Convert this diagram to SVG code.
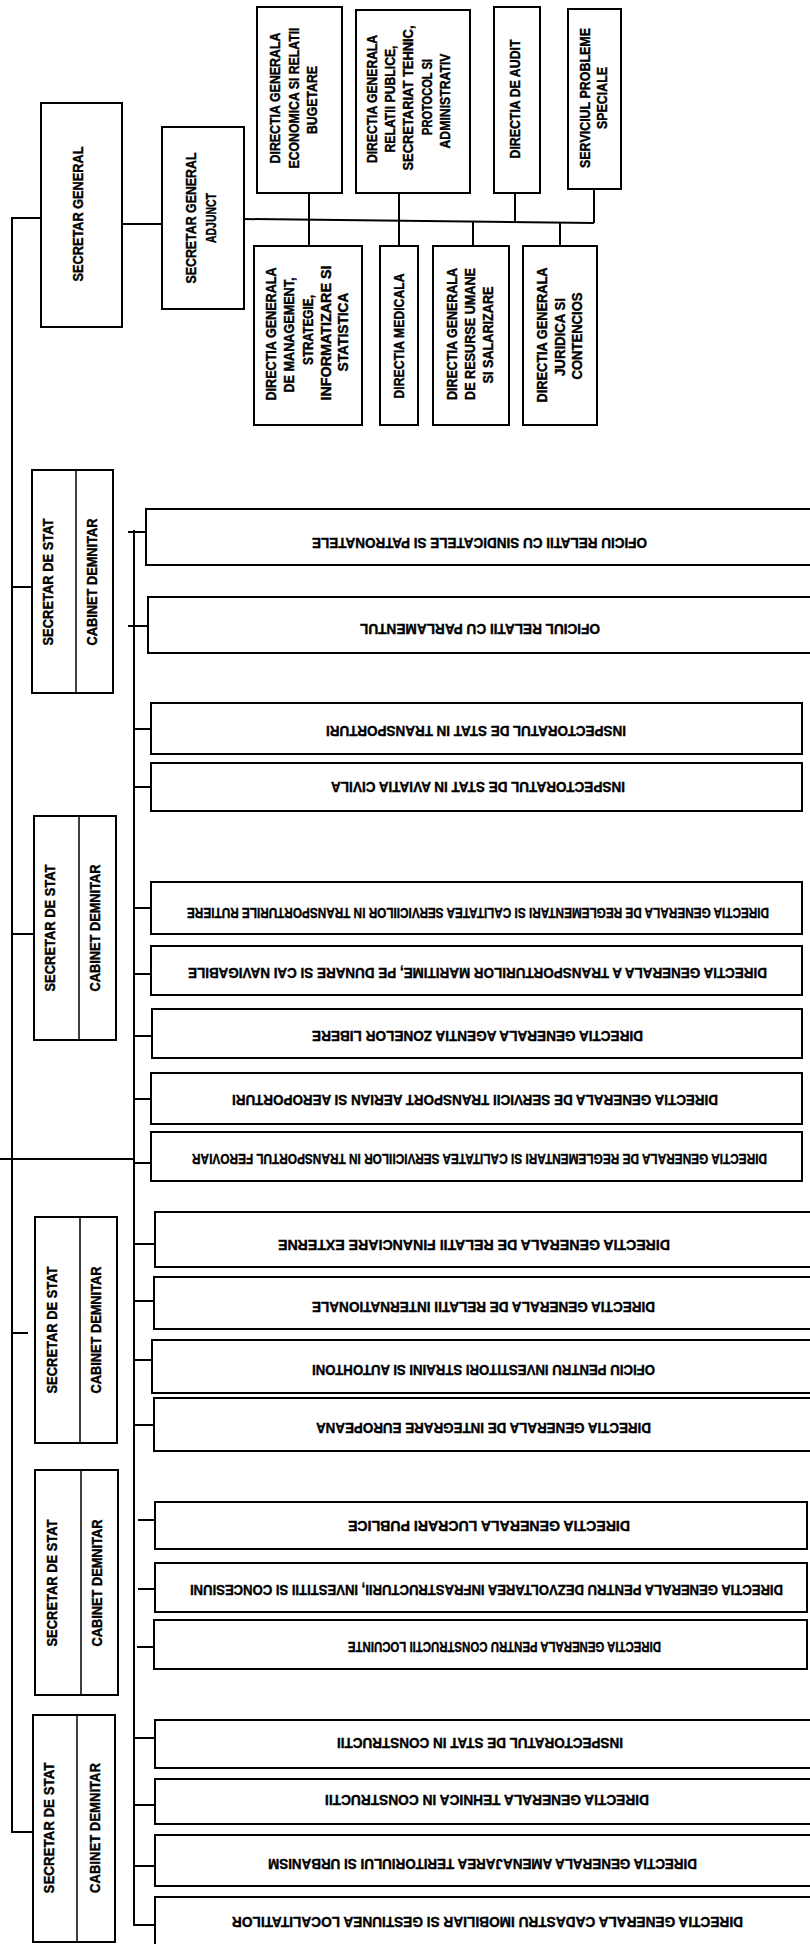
<svg xmlns="http://www.w3.org/2000/svg" width="810" height="1944" viewBox="0 0 810 1944">
<defs><style>
.bx{fill:#fff;stroke:#000;stroke-width:2}
.dv{fill:none;stroke:#000;stroke-width:1.5}
.ln{fill:none;stroke:#000;stroke-width:2}
text{font-family:"Liberation Sans",Arial,sans-serif;font-weight:bold;fill:#000;stroke:#000;stroke-width:0.4;text-anchor:middle}
.v{font-size:14px}
.h{font-size:15px}
</style></defs>
<rect width="810" height="1944" fill="#fff"/>
<g id="connectors" class="ln">
<path d="M41,218 H12 V1832 H33"/>
<path d="M12,587 H32"/>
<path d="M12,934 H34"/>
<path d="M12,1333 H28"/>
<path d="M0,1159 H134"/>
<path d="M122,224 H162"/>
<path d="M244,219 L594,223"/>
<path d="M309,193 V246"/>
<path d="M399,193 V246"/>
<path d="M515,193 V222"/>
<path d="M594,189 V223"/>
<path d="M473,222 V246"/>
<path d="M560,222 V246"/>
<path d="M134,530 V1925 H155"/>
<path d="M128,532 H146"/>
<path d="M128,626 H148"/>
<path d="M134,729 H151"/>
<path d="M134,787 H151"/>
<path d="M134,908 H151"/>
<path d="M134,974 H151"/>
<path d="M134,1036 H152"/>
<path d="M134,1099 H151"/>
<path d="M134,1163 H151"/>
<path d="M134,1244 H155"/>
<path d="M134,1301 H154"/>
<path d="M134,1360 H152"/>
<path d="M134,1425 H154"/>
<path d="M138,1520 H155"/>
<path d="M138,1589 H155"/>
<path d="M137,1647 H154"/>
<path d="M134,1738 H155"/>
<path d="M134,1805 H155"/>
<path d="M134,1866 H155"/>
</g>

<g id="secretar-general"><rect class="bx" x="41" y="103" width="81" height="224"/>
<text class="v" transform="translate(78,214) rotate(-90)" y="5" textLength="135" lengthAdjust="spacingAndGlyphs">SECRETAR GENERAL</text></g>

<g id="secretar-general-adjunct"><rect class="bx" x="162" y="127" width="82" height="182"/>
<text class="v" transform="translate(191,218) rotate(-90)" y="5" textLength="131" lengthAdjust="spacingAndGlyphs">SECRETAR GENERAL</text>
<text class="v" transform="translate(211,218) rotate(-90)" y="5" textLength="50" lengthAdjust="spacingAndGlyphs">ADJUNCT</text></g>

<g id="dg-economica"><rect class="bx" x="257" y="7" width="85" height="186"/>
<text class="v" transform="translate(275,98) rotate(-90)" y="5" textLength="131" lengthAdjust="spacingAndGlyphs">DIRECTIA GENERALA</text>
<text class="v" transform="translate(294,98) rotate(-90)" y="5" textLength="141" lengthAdjust="spacingAndGlyphs">ECONOMICA SI RELATII</text>
<text class="v" transform="translate(312,100) rotate(-90)" y="5" textLength="68" lengthAdjust="spacingAndGlyphs">BUGETARE</text></g>

<g id="dg-relatii-publice"><rect class="bx" x="356" y="10" width="114" height="183"/>
<text class="v" transform="translate(372,99) rotate(-90)" y="5" textLength="128" lengthAdjust="spacingAndGlyphs">DIRECTIA GENERALA</text>
<text class="v" transform="translate(390,99) rotate(-90)" y="5" textLength="107" lengthAdjust="spacingAndGlyphs">RELATII PUBLICE,</text>
<text class="v" transform="translate(408,98) rotate(-90)" y="5" textLength="145" lengthAdjust="spacingAndGlyphs">SECRETARIAT TEHNIC,</text>
<text class="v" transform="translate(427,97) rotate(-90)" y="5" textLength="76" lengthAdjust="spacingAndGlyphs">PROTOCOL SI</text>
<text class="v" transform="translate(445,101) rotate(-90)" y="5" textLength="95" lengthAdjust="spacingAndGlyphs">ADMINISTRATIV</text></g>

<g id="directia-audit"><rect class="bx" x="494" y="7" width="46" height="186"/>
<text class="v" transform="translate(515,99) rotate(-90)" y="5" textLength="119" lengthAdjust="spacingAndGlyphs">DIRECTIA DE AUDIT</text></g>

<g id="serviciul-probleme-speciale"><rect class="bx" x="568" y="9" width="53" height="180"/>
<text class="v" transform="translate(585,98) rotate(-90)" y="5" textLength="140" lengthAdjust="spacingAndGlyphs">SERVICIUL PROBLEME</text>
<text class="v" transform="translate(602,98) rotate(-90)" y="5" textLength="62" lengthAdjust="spacingAndGlyphs">SPECIALE</text></g>

<g id="dg-management"><rect class="bx" x="254" y="246" width="108" height="179"/>
<text class="v" transform="translate(271,334) rotate(-90)" y="5" textLength="133" lengthAdjust="spacingAndGlyphs">DIRECTIA GENERALA</text>
<text class="v" transform="translate(289,335) rotate(-90)" y="5" textLength="115" lengthAdjust="spacingAndGlyphs">DE MANAGEMENT,</text>
<text class="v" transform="translate(308,330) rotate(-90)" y="5" textLength="70" lengthAdjust="spacingAndGlyphs">STRATEGIE,</text>
<text class="v" transform="translate(326,333) rotate(-90)" y="5" textLength="135" lengthAdjust="spacingAndGlyphs">INFORMATIZARE SI</text>
<text class="v" transform="translate(343,332) rotate(-90)" y="5" textLength="79" lengthAdjust="spacingAndGlyphs">STATISTICA</text></g>

<g id="directia-medicala"><rect class="bx" x="380" y="246" width="38" height="179"/>
<text class="v" transform="translate(399,336) rotate(-90)" y="5" textLength="125" lengthAdjust="spacingAndGlyphs">DIRECTIA MEDICALA</text></g>

<g id="dg-resurse-umane"><rect class="bx" x="433" y="246" width="76" height="179"/>
<text class="v" transform="translate(452,334) rotate(-90)" y="5" textLength="132" lengthAdjust="spacingAndGlyphs">DIRECTIA GENERALA</text>
<text class="v" transform="translate(470,334) rotate(-90)" y="5" textLength="132" lengthAdjust="spacingAndGlyphs">DE RESURSE UMANE</text>
<text class="v" transform="translate(488,335) rotate(-90)" y="5" textLength="97" lengthAdjust="spacingAndGlyphs">SI SALARIZARE</text></g>

<g id="dg-juridica"><rect class="bx" x="523" y="246" width="74" height="179"/>
<text class="v" transform="translate(542,335) rotate(-90)" y="5" textLength="135" lengthAdjust="spacingAndGlyphs">DIRECTIA GENERALA</text>
<text class="v" transform="translate(560,337) rotate(-90)" y="5" textLength="78" lengthAdjust="spacingAndGlyphs">JURIDICA SI</text>
<text class="v" transform="translate(577,336) rotate(-90)" y="5" textLength="87" lengthAdjust="spacingAndGlyphs">CONTENCIOS</text></g>

<g id="secretar-stat-1"><rect class="bx" x="32" y="470" width="81" height="223"/><path class="dv" d="M76,470 V693"/>
<text class="v" transform="translate(48,582) rotate(-90)" y="5" textLength="127" lengthAdjust="spacingAndGlyphs">SECRETAR DE STAT</text>
<text class="v" transform="translate(92,582) rotate(-90)" y="5" textLength="127" lengthAdjust="spacingAndGlyphs">CABINET DEMNITAR</text></g>

<g id="secretar-stat-2"><rect class="bx" x="34" y="816" width="82" height="224"/><path class="dv" d="M79,816 V1040"/>
<text class="v" transform="translate(50,928) rotate(-90)" y="5" textLength="127" lengthAdjust="spacingAndGlyphs">SECRETAR DE STAT</text>
<text class="v" transform="translate(95,928) rotate(-90)" y="5" textLength="127" lengthAdjust="spacingAndGlyphs">CABINET DEMNITAR</text></g>

<g id="secretar-stat-3"><rect class="bx" x="35" y="1217" width="82" height="226"/><path class="dv" d="M80,1217 V1443"/>
<text class="v" transform="translate(52,1330) rotate(-90)" y="5" textLength="127" lengthAdjust="spacingAndGlyphs">SECRETAR DE STAT</text>
<text class="v" transform="translate(96,1330) rotate(-90)" y="5" textLength="127" lengthAdjust="spacingAndGlyphs">CABINET DEMNITAR</text></g>

<g id="secretar-stat-4"><rect class="bx" x="35" y="1470" width="83" height="225"/><path class="dv" d="M81,1470 V1695"/>
<text class="v" transform="translate(52,1583) rotate(-90)" y="5" textLength="127" lengthAdjust="spacingAndGlyphs">SECRETAR DE STAT</text>
<text class="v" transform="translate(97,1583) rotate(-90)" y="5" textLength="127" lengthAdjust="spacingAndGlyphs">CABINET DEMNITAR</text></g>

<g id="secretar-stat-5"><rect class="bx" x="33" y="1715" width="82" height="227"/><path class="dv" d="M77,1715 V1942"/>
<text class="v" transform="translate(49,1828) rotate(-90)" y="5" textLength="131" lengthAdjust="spacingAndGlyphs">SECRETAR DE STAT</text>
<text class="v" transform="translate(95,1828) rotate(-90)" y="5" textLength="130" lengthAdjust="spacingAndGlyphs">CABINET DEMNITAR</text></g>

<g id="r1"><rect class="bx" x="146" y="509" width="670" height="56"/>
<text class="h" transform="translate(479.5,543) rotate(180)" y="5.5" textLength="335" lengthAdjust="spacingAndGlyphs">OFICIU RELATII CU SINDICATELE SI PATRONATELE</text></g>
<g id="r2"><rect class="bx" x="148" y="597" width="668" height="56"/>
<text class="h" transform="translate(480,629) rotate(180)" y="5.5" textLength="240" lengthAdjust="spacingAndGlyphs">OFICIUL RELATII CU PARLAMENTUL</text></g>
<g id="r3"><rect class="bx" x="151" y="703" width="651" height="51"/>
<text class="h" transform="translate(476,731) rotate(180)" y="5.5" textLength="300" lengthAdjust="spacingAndGlyphs">INSPECTORATUL DE STAT IN TRANSPORTURI</text></g>
<g id="r4"><rect class="bx" x="151" y="763" width="651" height="48"/>
<text class="h" transform="translate(478,787) rotate(180)" y="5.5" textLength="294" lengthAdjust="spacingAndGlyphs">INSPECTORATUL DE STAT IN AVIATIA CIVILA</text></g>
<g id="r5"><rect class="bx" x="151" y="882" width="651" height="52"/>
<text class="h" transform="translate(478,913) rotate(180)" y="5.5" textLength="582" lengthAdjust="spacingAndGlyphs">DIRECTIA GENERALA DE REGLEMENTARI SI CALITATEA SERVICIILOR IN TRANSPORTURILE RUTIERE</text></g>
<g id="r6"><rect class="bx" x="151" y="946" width="651" height="49"/>
<text class="h" transform="translate(477.5,973) rotate(180)" y="5.5" textLength="579" lengthAdjust="spacingAndGlyphs">DIRECTIA GENERALA A TRANSPORTURILOR MARITIME, PE DUNARE SI CAI NAVIGABILE</text></g>
<g id="r7"><rect class="bx" x="152" y="1009" width="650" height="49"/>
<text class="h" transform="translate(477.5,1036) rotate(180)" y="5.5" textLength="331" lengthAdjust="spacingAndGlyphs">DIRECTIA GENERALA AGENTIA ZONELOR LIBERE</text></g>
<g id="r8"><rect class="bx" x="151" y="1073" width="651" height="51"/>
<text class="h" transform="translate(475,1100) rotate(180)" y="5.5" textLength="486" lengthAdjust="spacingAndGlyphs">DIRECTIA GENERALA DE SERVICII TRANSPORT AERIAN SI AEROPORTURI</text></g>
<g id="r9"><rect class="bx" x="151" y="1132" width="651" height="49"/>
<text class="h" transform="translate(479.5,1159) rotate(180)" y="5.5" textLength="575" lengthAdjust="spacingAndGlyphs">DIRECTIA GENERALA DE REGLEMENTARI SI CALITATEA SERVICIILOR IN TRANSPORTUL FEROVIAR</text></g>
<g id="r10"><rect class="bx" x="155" y="1212" width="661" height="55"/>
<text class="h" transform="translate(474,1245) rotate(180)" y="5.5" textLength="392" lengthAdjust="spacingAndGlyphs">DIRECTIA GENERALA DE RELATII FINANCIARE EXTERNE</text></g>
<g id="r11"><rect class="bx" x="154" y="1277" width="662" height="52"/>
<text class="h" transform="translate(483.5,1307) rotate(180)" y="5.5" textLength="343" lengthAdjust="spacingAndGlyphs">DIRECTIA GENERALA DE RELATII INTERNATIONALE</text></g>
<g id="r12"><rect class="bx" x="152" y="1340" width="664" height="53"/>
<text class="h" transform="translate(483.5,1370) rotate(180)" y="5.5" textLength="343" lengthAdjust="spacingAndGlyphs">OFICIU PENTRU INVESTITORI STRAINI SI AUTOHTONI</text></g>
<g id="r13"><rect class="bx" x="154" y="1398" width="662" height="53"/>
<text class="h" transform="translate(483.5,1428) rotate(180)" y="5.5" textLength="335" lengthAdjust="spacingAndGlyphs">DIRECTIA GENERALA DE INTEGRARE EUROPEANA</text></g>
<g id="r14"><rect class="bx" x="155" y="1502" width="652" height="47"/>
<text class="h" transform="translate(489,1526) rotate(180)" y="5.5" textLength="282" lengthAdjust="spacingAndGlyphs">DIRECTIA GENERALA LUCRARI PUBLICE</text></g>
<g id="r15"><rect class="bx" x="155" y="1563" width="652" height="49"/>
<text class="h" transform="translate(486.5,1590) rotate(180)" y="5.5" textLength="593" lengthAdjust="spacingAndGlyphs">DIRECTIA GENERALA PENTRU DEZVOLTAREA INFRASTRUCTURII, INVESTITII SI CONCESIUNI</text></g>
<g id="r16"><rect class="bx" x="154" y="1620" width="653" height="49"/>
<text class="h" transform="translate(504.5,1647) rotate(180)" y="5.5" textLength="313" lengthAdjust="spacingAndGlyphs">DIRECTIA GENERALA PENTRU CONSTRUCTII LOCUINTE</text></g>
<g id="r17"><rect class="bx" x="155" y="1720" width="661" height="48"/>
<text class="h" transform="translate(480,1743) rotate(180)" y="5.5" textLength="286" lengthAdjust="spacingAndGlyphs">INSPECTORATUL DE STAT IN CONSTRUCTII</text></g>
<g id="r18"><rect class="bx" x="155" y="1779" width="661" height="45"/>
<text class="h" transform="translate(487,1800) rotate(180)" y="5.5" textLength="324" lengthAdjust="spacingAndGlyphs">DIRECTIA GENERALA TEHNICA IN CONSTRUCTII</text></g>
<g id="r19"><rect class="bx" x="155" y="1835" width="661" height="51"/>
<text class="h" transform="translate(482.5,1864) rotate(180)" y="5.5" textLength="429" lengthAdjust="spacingAndGlyphs">DIRECTIA GENERALA AMENAJAREA TERITORIULUI SI URBANISM</text></g>
<g id="r20"><rect class="bx" x="155" y="1897" width="661" height="60"/>
<text class="h" transform="translate(487.5,1922) rotate(180)" y="5.5" textLength="511" lengthAdjust="spacingAndGlyphs">DIRECTIA GENERALA CADASTRU IMOBILIAR SI GESTIUNEA LOCALITATILOR</text></g>
</svg>
